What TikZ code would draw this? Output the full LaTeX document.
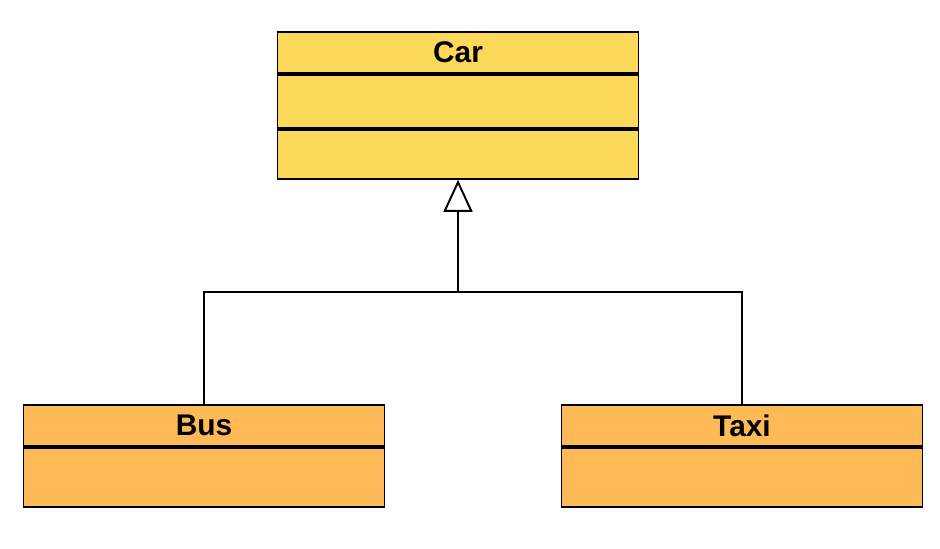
\documentclass[tikz,border=0pt]{standalone}
\usepackage{fontspec}
\setmainfont{Liberation Sans}
\usepackage{xcolor}
\usepackage{tikz}
\usetikzlibrary{positioning, arrows.meta}

\definecolor{caryellow}{HTML}{FCD95B}
\definecolor{suborange}{HTML}{FDBA57}

\begin{document}
\begin{tikzpicture}[
    node distance=0pt,
    classbox/.style={rectangle, draw, line width=1.1pt, minimum width=7.22cm, inner sep=0pt, font=\bfseries\fontsize{17}{20}\selectfont},
    parent/.style={classbox, fill=caryellow},
    child/.style={classbox, fill=suborange},
    link/.style={line width=1.3pt}
]
    \useasboundingbox (0,0) rectangle (18.8,10.96);

    % Parent class
    \node[parent, minimum height=0.82cm] (car) at (9.16,9.91) {Car};
    \node[parent, minimum height=1.06cm, below=of car] (carattr) {};
    \node[parent, minimum height=0.98cm, below=of carattr] (carops) {};

    % Subclasses
    \node[child, minimum height=0.82cm] (bus) at (4.08,2.45) {Bus};
    \node[child, minimum height=1.18cm, below=of bus] (busbody) {};

    \node[child, minimum height=0.82cm] (taxi) at (14.84,2.45) {Taxi};
    \node[child, minimum height=1.18cm, below=of taxi] (taxibody) {};

    % Generalisation
    \coordinate (join) at (carops.south |- 0,5.12);
    \draw[link] (bus.north) |- (join) -| (taxi.north);
    \draw[link, -{Triangle[open, length=0.64cm, width=0.58cm, line width=1.1pt]}] (join) -- (carops.south);
\end{tikzpicture}
\end{document}
